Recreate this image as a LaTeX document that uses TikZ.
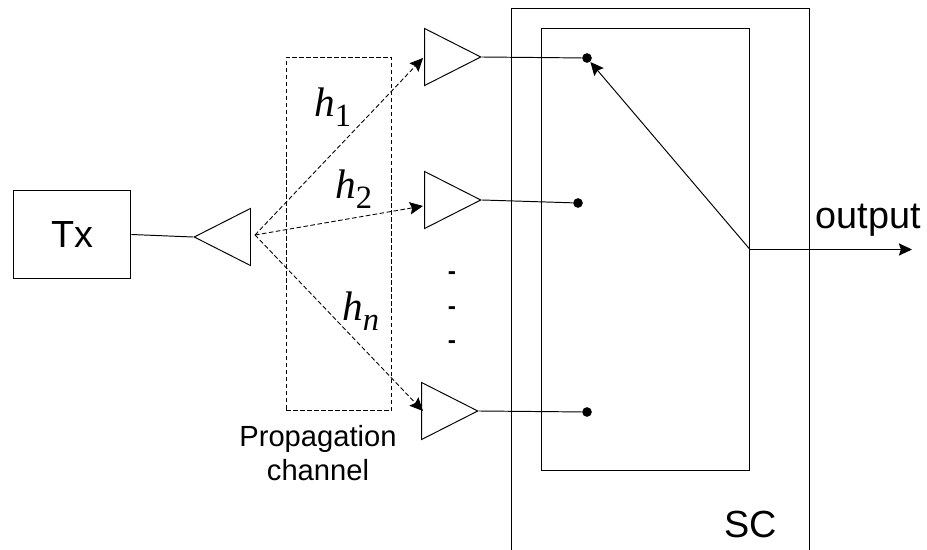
\documentclass[tikz,border=0pt]{standalone}
\usepackage{fontspec}
\setmainfont{Liberation Sans}
\newfontfamily\chanfont{Liberation Serif}
\usetikzlibrary{arrows.meta,shapes.geometric}
\newcommand{\chanlabel}[1]{{\chanfont\fontsize{23.5}{24}\selectfont\textit{h}\kern-0.5pt\raisebox{-5.7pt}{\fontsize{18.5}{19}\selectfont #1}}}

\begin{document}
\begin{tikzpicture}[x=0.02cm,y=-0.02cm,>={Stealth[length=7.5pt,width=7pt,inset=1.2pt]},line width=0.55pt,
  antenna/.style={draw,isosceles triangle,isosceles triangle stretches=true,minimum width=32.5pt,minimum height=32pt,inner sep=0pt,anchor=apex},
  contact/.style={circle,fill,inner sep=0pt,minimum size=5.5pt},
  bigtext/.style={font=\fontsize{21.5}{24}\selectfont,inner sep=0pt},
  smalltext/.style={font=\fontsize{16.6}{19}\selectfont,align=center,inner sep=0pt},
  gapdash/.style={font=\fontsize{14}{14}\selectfont\bfseries,inner sep=0pt},
  link/.style={->,dashed,dash pattern=on 2.6pt off 1.4pt,line width=0.5pt}]
  \useasboundingbox (0,0) rectangle (927,550);
  \node[draw,minimum width=67pt,minimum height=50.6pt,bigtext] (tx) at (72,234.5) {Tx};
  \node[antenna,shape border rotate=180] (txant) at (193,237) {};
  \node[antenna] (rx1) at (482,57) {};
  \node[antenna] (rx2) at (482,200) {};
  \node[antenna] (rxn) at (479,411) {};
  \node[contact] (c1) at (587,58) {};
  \node[contact] (c2) at (578,203) {};
  \node[contact] (cn) at (587,412) {};
  \node[draw,dashed,dash pattern=on 2.6pt off 1.4pt,minimum width=60.3pt,minimum height=201.4pt,inner sep=0pt] (chan) at (339,234) {};
  \node[draw,minimum width=118.9pt,minimum height=252pt,inner sep=0pt] (inner) at (645.5,249.5) {};
  \coordinate (pivot) at (750,249.5);
  \coordinate (src) at (255,235);
  \coordinate (out) at (912,249.5);
  \coordinate (sc1) at (511.5,550);
  \coordinate (sc2) at (511.5,8.5);
  \coordinate (sc3) at (809.5,8.5);
  \coordinate (sc4) at (809.5,550);
  \coordinate (end1) at (423,58);
  \coordinate (end2) at (423,206);
  \coordinate (endn) at (423,411);
  \draw (sc1) -- (sc2) -- (sc3) -- (sc4);
  \draw (tx.east) -- (txant.apex);
  \draw (rx1.apex) -- (c1);
  \draw (rx2.apex) -- (c2);
  \draw (rxn.apex) -- (cn);
  \draw[link] (src) -- (end1);
  \draw[link] (src) -- (end2);
  \draw[link] (src) -- (endn);
  \draw[->] (pivot) -- (c1);
  \draw[->] (pivot) -- (out);
  \node (h1) at (333,107) {\chanlabel{1}};
  \node (h2) at (354,189) {\chanlabel{2}};
  \node (hn) at (361,311) {\chanlabel{\textit{n}}};
  \node[gapdash] (gap1) at (452,276) {-};
  \node[gapdash] (gap2) at (452,311) {-};
  \node[gapdash] (gap3) at (452,345) {-};
  \node[bigtext] (outlabel) at (868,220) {output};
  \node[bigtext] (sc) at (751,524) {SC};
  \node[smalltext] (chanlabel) at (318,453) {Propagation\\channel};
\end{tikzpicture}
\end{document}
